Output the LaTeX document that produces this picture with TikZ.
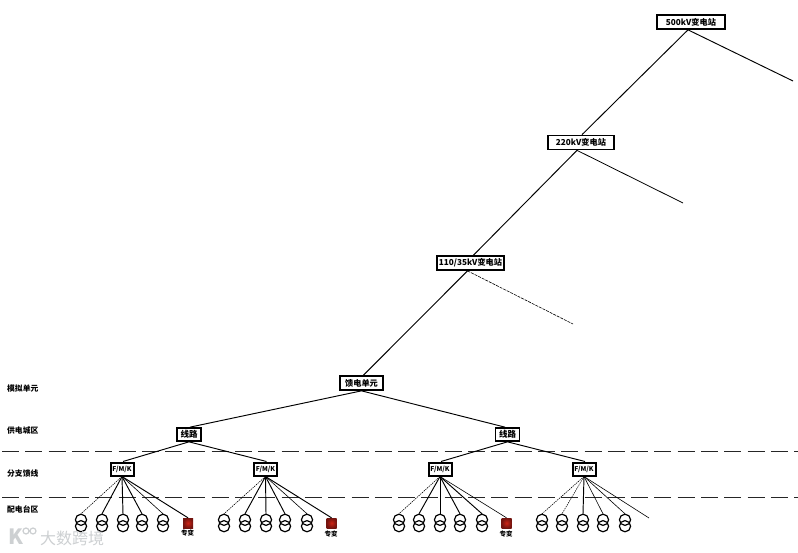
\documentclass[tikz,border=0pt]{standalone}
\usepackage{fontspec}
\setmainfont{Noto Sans CJK SC}
\usetikzlibrary{calc}
\definecolor{wm}{RGB}{205,208,210}
\definecolor{redin}{RGB}{205,35,20}
\definecolor{redout}{RGB}{115,20,15}
\tikzset{
  station/.style={draw=black,line width=1.7pt,fill=white,inner sep=0pt,font=\bfseries\fontsize{8.2}{9}\selectfont},
  bigbox/.style={station,minimum width=#1,minimum height=14pt},
  fbox/.style={station,line width=2pt,minimum width=23pt,minimum height=13pt,font=\bfseries\fontsize{6.6}{7}\selectfont},
  lbox/.style={station,minimum width=24pt,minimum height=13pt,font=\bfseries\fontsize{8.5}{9}\selectfont},
  side/.style={anchor=west,inner sep=0pt,font=\bfseries\fontsize{7.8}{9}\selectfont},
  link/.style={line width=0.95pt,black},
  thinlink/.style={line width=0.6pt,black},
  dotlink/.style={line width=0.6pt,black,dash pattern=on 1.3pt off 1pt},
  zone/.style={line width=0.9pt,black!85,dash pattern=on 17pt off 6.3pt},
  trafo/.style={minimum width=12pt,minimum height=18pt,inner sep=0pt},
  redbox/.style={minimum size=10pt,inner sep=0pt,inner color=redin,outer color=redout},
  redlab/.style={inner sep=0pt,font=\bfseries\fontsize{6.5}{7}\selectfont},
  mark text/.style={inner sep=0pt,text=wm,font=\fontsize{16}{17}\selectfont}
}
\newcommand{\trafoat}[2]{%
  \node[trafo] (#1) at (#2,523) {};
  \draw[line width=1.2pt] ([yshift=3.2pt]#1.center) circle (5.6pt);
  \draw[line width=1.2pt] ([yshift=-3.2pt]#1.center) circle (5.6pt);
}
\begin{document}
\begin{tikzpicture}[x=1pt,y=-1pt]
\useasboundingbox (0,0) rectangle (798,553);
\fill[white] (0,0) rectangle (798,553);

% zone lines
\coordinate (zl1) at (2,451); \coordinate (zr1) at (798,451);
\coordinate (zl2) at (2,497); \coordinate (zr2) at (798,497);
\draw[zone] (zl1) -- (zr1);
\draw[zone] (zl2) -- (zr2);

% free ends
\coordinate (e500) at (793,81);
\coordinate (e220) at (683,203);
\coordinate (e110) at (573,324);
\coordinate (e4) at (649,518);

% stations
\node[bigbox=68pt] (s500) at (691,22) {500kV变电站};
\node[bigbox=66pt] (s220) at (581,142.5) {220kV变电站};
\node[bigbox=67pt] (s110) at (470.5,263) {110/35kV变电站};
\node[bigbox=43pt] (feed) at (361.5,383) {馈电单元};
\node[lbox] (l1) at (189,434.5) {线路};
\node[lbox] (l2) at (507.5,434.5) {线路};
\node[fbox] (f1) at (122,469) {F/M/K};
\node[fbox] (f2) at (265.5,469) {F/M/K};
\node[fbox] (f3) at (440,469) {F/M/K};
\node[fbox] (f4) at (584,469) {F/M/K};

% transformers
\trafoat{a1}{81}\trafoat{a2}{102}\trafoat{a3}{123}\trafoat{a4}{142}\trafoat{a5}{163}
\trafoat{b1}{224}\trafoat{b2}{245}\trafoat{b3}{266}\trafoat{b4}{285}\trafoat{b5}{307}
\trafoat{c1}{399}\trafoat{c2}{419}\trafoat{c3}{440}\trafoat{c4}{460}\trafoat{c5}{482}
\trafoat{d1}{542}\trafoat{d2}{562}\trafoat{d3}{583}\trafoat{d4}{603}\trafoat{d5}{625}

% special transformers
\node[redbox] (ra) at (188,523) {};
\node[redbox] (rb) at (331.5,523) {};
\node[redbox] (rc) at (506.5,523) {};
\node[redlab] (la) at (187.5,533.5) {专变};
\node[redlab] (lb) at (331,534) {专变};
\node[redlab] (lc) at (506,534) {专变};

% trunk
\draw[link] ([xshift=-3pt]s500.south) -- ([xshift=1pt]s220.north);
\draw[link] ([xshift=-3pt]s500.south) -- (e500);
\draw[link] ([xshift=-4pt]s220.south) -- ([xshift=3pt]s110.north);
\draw[link,line width=0.8pt] ([xshift=-4pt]s220.south) -- (e220);
\draw[link] ([xshift=-3pt]s110.south) -- ([xshift=2pt]feed.north);
\draw[thinlink,dash pattern=on 3pt off 1pt] ([xshift=-3pt]s110.south) -- (e110);

% feeders
\draw[link] (feed.south) -- ([xshift=1pt]l1.north);
\draw[link] (feed.south) -- ([xshift=-2.5pt]l2.north);
\draw[link] (l1.south) -- ([xshift=1pt]f1.north);
\draw[link] (l1.south) -- ([xshift=1pt]f2.north);
\draw[link] (l2.south) -- ([xshift=1pt]f3.north);
\draw[link] (l2.south) -- ([xshift=1pt]f4.north);

% fans
\draw[dotlink] (f1.south) -- (a1.north);
\draw[link] (f1.south) -- (a2.north);
\draw[link] (f1.south) -- (a3.north);
\draw[link] (f1.south) -- (a4.north);
\draw[thinlink] (f1.south) -- (a5.north);
\draw[link] (f1.south) -- (ra.north);

\draw[dotlink] (f2.south) -- (b1.north);
\draw[link] (f2.south) -- (b2.north);
\draw[link] (f2.south) -- (b3.north);
\draw[link] (f2.south) -- (b4.north);
\draw[thinlink] (f2.south) -- (b5.north);
\draw[link] (f2.south) -- (rb.north);

\draw[dotlink] (f3.south) -- (c1.north);
\draw[link] (f3.south) -- (c2.north);
\draw[link] (f3.south) -- (c3.north);
\draw[link] (f3.south) -- (c4.north);
\draw[link] (f3.south) -- (c5.north);
\draw[thinlink] (f3.south) -- (rc.north);

\draw[dotlink] (f4.south) -- (d1.north);
\draw[dotlink] (f4.south) -- (d2.north);
\draw[link] (f4.south) -- (d3.north);
\draw[thinlink] (f4.south) -- (d4.north);
\draw[thinlink] (f4.south) -- (d5.north);
\draw[thinlink] (f4.south) -- (e4);

% left labels
\node[side] (t1) at (7,389) {模拟单元};
\node[side] (t2) at (7,431) {供电城区};
\node[side] (t3) at (7,474) {分支馈线};
\node[side] (t4) at (7,509) {配电台区};

% watermark
\node[mark text,anchor=west] (wmk) at (40,538) {大数跨境};
\node[mark text,anchor=west,font=\bfseries\fontsize{21}{22}\selectfont] (wmg) at (8,537) {K};
\draw[wm,line width=1.2pt] (26,531) circle (3pt) (33,531) circle (3pt);
\end{tikzpicture}
\end{document}
